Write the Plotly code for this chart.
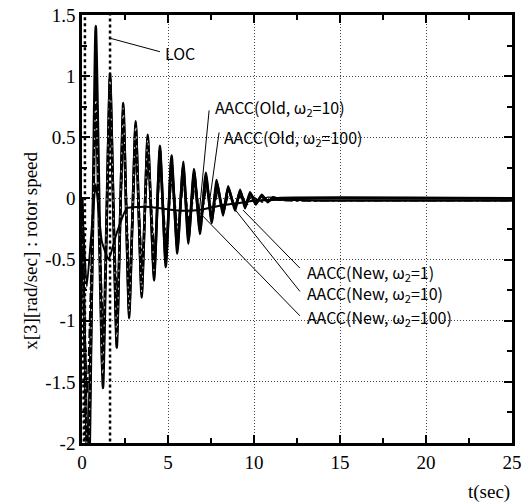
import plotly.graph_objects as go

# ---------------- data ----------------
loc_t = [0.0, 0.17, 0.17, 1.63, 1.63]
loc_y = [0.0, -3.0, 2.0, 2.0, -3.0]

old10_t = [0, 0.38, 0.80, 1.22, 1.63, 2.02, 2.40, 2.74, 3.12, 3.47, 3.82, 4.19, 4.53, 4.87,
           5.21, 5.54, 5.89, 6.18, 6.51, 6.86, 7.20, 7.54, 7.83, 8.20, 8.50, 8.90, 9.19, 9.48,
           9.77, 10.10, 10.45, 10.80, 11.10, 11.50, 12.0, 13.0, 25.0]
old10_y = [0, -2.5, 1.41, -1.55, 1.02, -1.22, 0.78, -0.98, 0.63, -0.81, 0.52, -0.67, 0.43, -0.56,
           0.35, -0.45, 0.30, -0.37, 0.24, -0.29, 0.21, -0.20, 0.15, -0.14, 0.10, -0.10, 0.07, -0.08,
           0.05, -0.05, 0.03, -0.03, 0.01, -0.01, 0.0, 0.0, 0.0]

old100_t = [0, 0.35, 0.80, 1.20, 1.63, 2.02, 2.40, 2.74, 3.12, 3.47, 3.82, 4.19, 4.53, 4.87,
            5.20, 5.54, 5.88, 6.20, 6.52, 6.86, 7.20, 7.54, 7.84, 8.20, 8.50, 8.88, 9.20, 9.50,
            9.80, 10.10, 10.45, 10.80, 11.20, 25.0]
old100_y = [0, -2.3, 0.82, -1.45, 0.98, -1.15, 0.74, -0.93, 0.60, -0.77, 0.49, -0.63, 0.40, -0.52,
            0.32, -0.42, 0.27, -0.34, 0.22, -0.26, 0.18, -0.18, 0.13, -0.12, 0.09, -0.08, 0.06, -0.06,
            0.04, -0.04, 0.02, -0.02, 0.0, 0.0]

new1_t = [0, 0.30, 0.80, 1.25, 1.65, 2.05, 2.42, 2.78, 3.14, 3.50, 3.85, 4.22, 4.55, 4.90,
          5.25, 5.58, 5.92, 6.25, 6.58, 6.92, 7.25, 7.60, 7.90, 8.25, 8.55, 8.95, 9.25, 9.60,
          10.0, 10.5, 11.0, 12.0, 14.0, 25.0]
new1_y = [0, -1.6, 0.70, -1.10, 0.62, -0.85, 0.48, -0.66, 0.38, -0.52, 0.30, -0.42, 0.24, -0.34,
          0.19, -0.27, 0.15, -0.22, 0.12, -0.17, 0.09, -0.13, 0.06, -0.10, 0.04, -0.07, 0.02, -0.05,
          0.0, -0.03, -0.01, -0.02, -0.02, -0.02]

new10_t = [0, 0.32, 0.80, 1.23, 1.64, 2.03, 2.41, 2.76, 3.13, 3.48, 3.83, 4.20, 4.54, 4.88,
           5.22, 5.56, 5.90, 6.22, 6.55, 6.90, 7.22, 7.56, 7.86, 8.22, 8.52, 8.92, 9.22, 9.55,
           9.90, 10.3, 10.8, 12.0, 25.0]
new10_y = [0, -2.0, 0.95, -1.35, 0.85, -1.05, 0.65, -0.85, 0.52, -0.68, 0.42, -0.55, 0.34, -0.45,
           0.27, -0.36, 0.22, -0.29, 0.17, -0.22, 0.13, -0.16, 0.10, -0.11, 0.07, -0.07, 0.04, -0.04,
           0.02, -0.02, 0.01, 0.0, 0.0]

new100_t = [0, 0.28, 0.80, 1.15, 1.55, 2.00, 2.60, 3.30, 4.00, 5.00, 6.00, 7.00, 8.00, 9.00,
            10.0, 12.0, 14.0, 25.0]
new100_y = [0, -0.72, 0.12, -0.35, -0.50, -0.29, -0.08, -0.07, -0.07, -0.09, -0.10, -0.09, -0.06,
            -0.04, -0.02, -0.01, -0.02, -0.02]

x_ticks = [0, 5, 10, 15, 20, 25]
x_ticktext = ["0", "5", "10", "15", "20", "25"]
y_ticks = [-2, -1.5, -1, -0.5, 0, 0.5, 1, 1.5]
y_ticktext = ["-2", "-1.5", "-1", "-0.5", "0", "0.5", "1", "1.5"]

labels = ["LOC", "AACC(Old, ω<sub>2</sub>=10)", "AACC(Old, ω<sub>2</sub>=100)",
          "AACC(New, ω<sub>2</sub>=1)", "AACC(New, ω<sub>2</sub>=10)", "AACC(New, ω<sub>2</sub>=100)"]

# ---------------- figure ----------------
fig = go.Figure()

fig.add_trace(go.Scatter(x=old10_t, y=old10_y, mode="lines", name=labels[1],
                         line=dict(color="black", width=2.6, shape="spline", smoothing=0.4)))
fig.add_trace(go.Scatter(x=new10_t, y=new10_y, mode="lines", name=labels[4],
                         line=dict(color="black", width=1.2, shape="spline", smoothing=0.4)))
fig.add_trace(go.Scatter(x=new1_t, y=new1_y, mode="lines", name=labels[3],
                         line=dict(color="black", width=1.5, dash="dashdot", shape="spline", smoothing=0.4)))
# Old w2=100: black core with sparse white dashes
fig.add_trace(go.Scatter(x=old100_t, y=old100_y, mode="lines", name=labels[2],
                         line=dict(color="black", width=2.6, shape="spline", smoothing=0.4)))
fig.add_trace(go.Scatter(x=old100_t[:12], y=old100_y[:12], mode="lines", showlegend=False, hoverinfo="skip",
                         line=dict(color="white", width=0.8, dash="2px,7px", shape="spline", smoothing=0.4)))
fig.add_trace(go.Scatter(x=new100_t, y=new100_y, mode="lines", name=labels[5],
                         line=dict(color="black", width=2, shape="spline", smoothing=0.4)))
fig.add_trace(go.Scatter(x=loc_t, y=loc_y, mode="lines", name=labels[0],
                         line=dict(color="black", width=2.5, dash="dot")))

label_font = dict(family="Noto Sans CJK JP", size=16, color="black")
text_pos = [(4.71, 1.19), (7.62, 0.745), (8.14, 0.50), (12.97, -0.605), (12.97, -0.78), (12.97, -0.97)]
for txt, (tx, ty) in zip(labels, text_pos):
    fig.add_annotation(x=tx, y=ty, xref="x", yref="y", text=txt, showarrow=False,
                       xanchor="left", yanchor="middle", font=label_font)

leaders = [((1.63, 1.31), (4.53, 1.20)),
           ((7.39, 0.72), (6.80, -0.14)),
           ((7.97, 0.54), (7.38, -0.06)),
           ((9.36, -0.095), (12.67, -0.57)),
           ((8.78, -0.07), (12.67, -0.76)),
           ((6.86, -0.12), (12.67, -0.96))]
for (x0, y0), (x1, y1) in leaders:
    fig.add_shape(type="line", x0=x0, y0=y0, x1=x1, y1=y1, xref="x", yref="y",
                  line=dict(color="black", width=1))

tick_font = dict(family="Liberation Serif", size=19, color="black")
fig.add_annotation(x=-0.149, y=0.45, xref="paper", yref="paper", text="x[3][rad/sec] : rotor speed",
                   textangle=-90, showarrow=False, font=dict(family="Liberation Serif", size=19, color="black"))
fig.add_annotation(x=1.0, y=-0.114, xref="paper", yref="paper", text="t(sec)", xanchor="right",
                   yanchor="middle", showarrow=False, font=tick_font)

axis_common = dict(showline=True, linecolor="black", linewidth=2.5, mirror="allticks",
                   ticks="inside", ticklen=8, tickwidth=2, tickcolor="black",
                   showgrid=True, gridcolor="#444", gridwidth=1, griddash="1px,2px",
                   zeroline=False, tickfont=tick_font, automargin=False)

fig.update_xaxes(range=[0, 25], tickvals=x_ticks, ticktext=x_ticktext,
                 minor=dict(dtick=2.5, ticks="inside", ticklen=5, tickwidth=1.5, tickcolor="black", showgrid=False),
                 **axis_common)
fig.update_yaxes(range=[-2, 1.5], tickvals=y_ticks, ticktext=y_ticktext,
                 minor=dict(dtick=0.25, ticks="inside", ticklen=5, tickwidth=1.5, tickcolor="black", showgrid=False),
                 **axis_common)

fig.update_layout(width=522, height=504, margin=dict(l=82, r=10, t=15, b=61),
                  plot_bgcolor="white", paper_bgcolor="white", showlegend=False)

fig.write_html("out.html", config={"displayModeBar": False},
               post_script="document.body.style.margin='0';document.body.style.overflow='hidden';")
